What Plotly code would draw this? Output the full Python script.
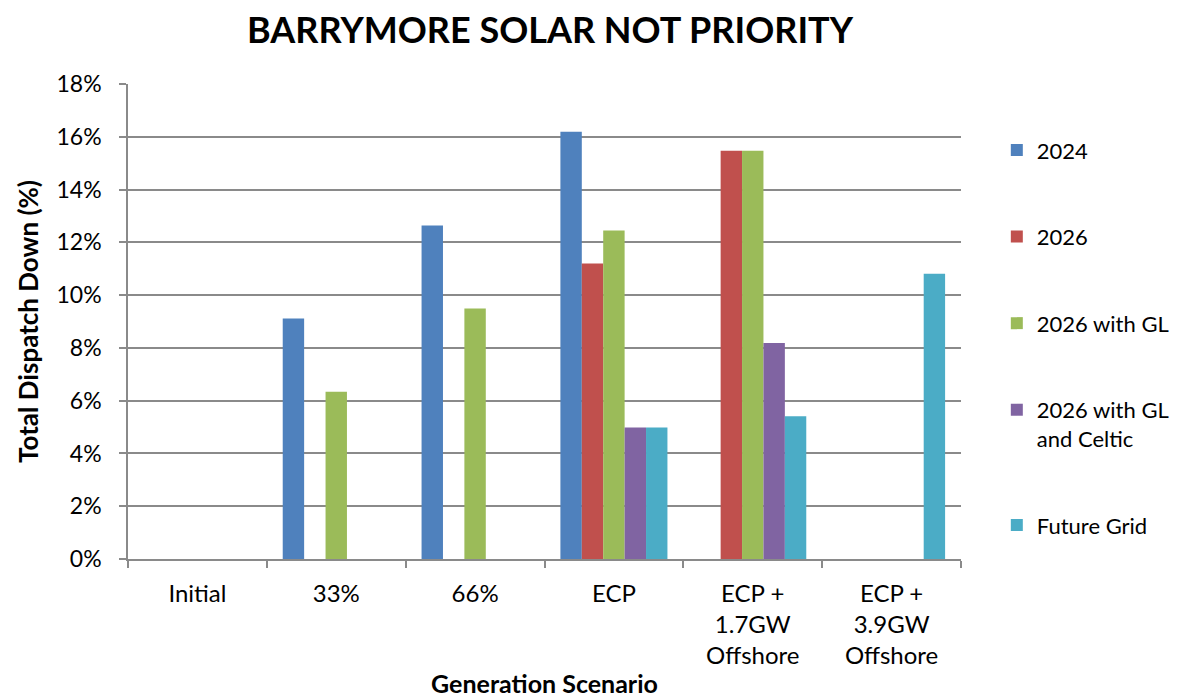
import plotly.graph_objects as go

categories = ["Initial", "33%", "66%", "ECP", "ECP +<br>1.7GW<br>Offshore", "ECP +<br>3.9GW<br>Offshore"]
series_names = ["2024", "2026", "2026 with GL", "2026 with GL<br>and Celtic", "Future Grid"]
s2024 = [None, 0.0911, 0.1264, 0.1619, None, None]
s2026 = [None, None, None, 0.1120, 0.1547, None]
s2026_gl = [None, 0.0634, 0.0949, 0.1245, 0.1547, None]
s2026_gl_celtic = [None, None, None, 0.0498, 0.0819, None]
s_future = [None, None, None, 0.0498, 0.0541, 0.1081]
colors = ["#4F81BD", "#C0504D", "#9BBB59", "#8064A2", "#4BACC6"]
y_ticks = [0, 0.02, 0.04, 0.06, 0.08, 0.10, 0.12, 0.14, 0.16, 0.18]

FONT = "Lato"
fig = go.Figure()
for i, (name, vals) in enumerate(zip(series_names, [s2024, s2026, s2026_gl, s2026_gl_celtic, s_future])):
    fig.add_trace(go.Bar(
        x=categories, y=vals, name=name, marker_color=colors[i],
        marker_line_width=0, legendgroup=f"g{i}",
    ))

grid = "#8a8a8a"
fig.update_layout(
    width=1181, height=697,
    paper_bgcolor="white", plot_bgcolor="white",
    margin=dict(l=120, r=228, t=76, b=146),
    barmode="group", bargap=0.229, bargroupgap=0,
    font=dict(family=FONT, color="black", size=22),
    title=dict(text="<b>BARRYMORE SOLAR NOT PRIORITY</b>", x=542/1181, xanchor="center",
               y=1 - 10/697, yanchor="top", yref="container",
               font=dict(family=FONT, size=36, color="black")),
    legend=dict(x=1.043, xanchor="left", y=0.905, yanchor="top",
                traceorder="grouped", tracegroupgap=55, valign="top",
                font=dict(family=FONT, size=22, color="black"), bgcolor="rgba(0,0,0,0)"),
    showlegend=True,
)
fig.update_xaxes(
    type="category", showline=True, linecolor=grid, linewidth=1.5,
    ticks="outside", tickson="boundaries", ticklen=7, tickcolor=grid, tickwidth=1.5,
    tickfont=dict(family=FONT, size=24, color="black"), ticklabelstandoff=12,
    title=dict(text="<b>Generation Scenario</b>", font=dict(family=FONT, size=25, color="black"), standoff=8),
    showgrid=False,
)
fig.update_yaxes(
    range=[0, 0.18], tickvals=y_ticks, tickformat=".0%",
    showline=True, linecolor=grid, linewidth=1.5,
    ticks="outside", ticklen=7, tickcolor=grid, tickwidth=1.5,
    showgrid=True, gridcolor=grid, gridwidth=1.5, zeroline=False,
    tickfont=dict(family=FONT, size=23, color="black"), ticklabelstandoff=13,
    title=dict(text="<b>Total Dispatch Down (%)</b>", font=dict(family=FONT, size=26, color="black"), standoff=10),
)
fig.write_html("out.html")
